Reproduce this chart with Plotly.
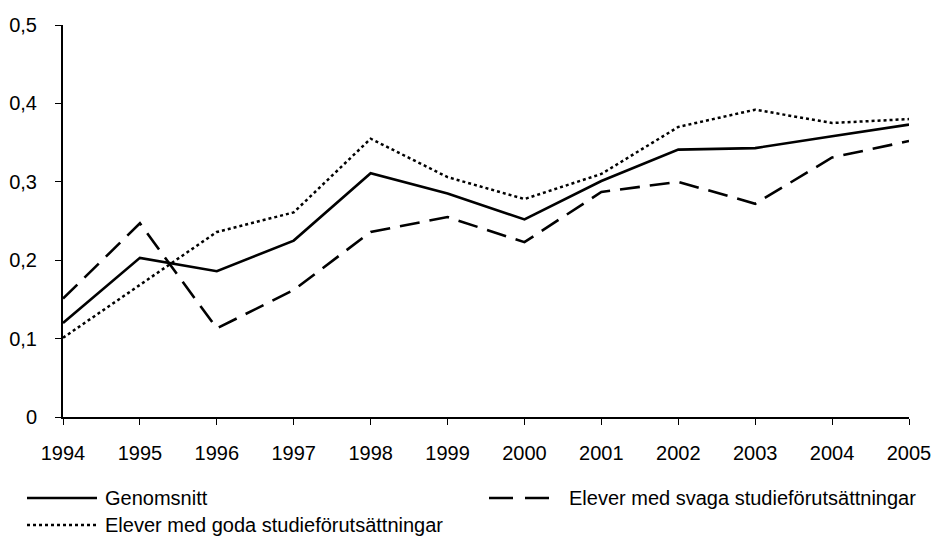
import plotly.graph_objects as go

years = [1994, 1995, 1996, 1997, 1998, 1999, 2000, 2001, 2002, 2003, 2004, 2005]

genomsnitt = [0.120, 0.203, 0.186, 0.225, 0.311, 0.285, 0.252, 0.301, 0.341, 0.343, 0.358, 0.373]
svaga = [0.151, 0.247, 0.113, 0.162, 0.236, 0.255, 0.223, 0.287, 0.300, 0.272, 0.331, 0.352]
goda = [0.101, 0.168, 0.236, 0.261, 0.355, 0.306, 0.278, 0.310, 0.370, 0.392, 0.375, 0.380]

y_ticks = [0, 0.1, 0.2, 0.3, 0.4, 0.5]
y_tick_labels = ["0", "0,1", "0,2", "0,3", "0,4", "0,5"]

FONT = "Liberation Sans, Arial, sans-serif"

# plot area in pixels; the page's body margin is removed below so the
# figure fills the window exactly
W, H = 936, 540
L, T = 63, 25
R, B = 936 - 909, 540 - 417
PW, PH = W - L - R, H - T - B


def px_x(px):
    return (px - L) / PW


def px_y(py):
    return (H - B - py) / PH


series = [
    ("Genomsnitt", genomsnitt, dict(color="black", width=2.6)),
    ("Elever med svaga studieförutsättningar", svaga, dict(color="black", width=2.6, dash="20px,10px")),
    ("Elever med goda studieförutsättningar", goda, dict(color="black", width=2.5, dash="dot")),
]

fig = go.Figure()
for name, vals, line in series:
    fig.add_trace(go.Scatter(x=years, y=vals, mode="lines", name=name, line=line))

# hand-drawn legend below the axes: (sample x0, sample x1, text x, row y)
legend_pos = [
    (27, 97, 103, 498),
    (489, 549, 567, 498),
    (27, 97, 103, 525),
]
legend_dash = ["solid", "24px,12px", "dot"]
for (name, _, line), (x0, x1, tx, ry), dash in zip(series, legend_pos, legend_dash):
    fig.add_shape(
        type="line", xref="paper", yref="paper",
        x0=px_x(x0), x1=px_x(x1), y0=px_y(ry), y1=px_y(ry),
        line=dict(color="black", width=line["width"], dash=dash),
    )
    fig.add_annotation(
        xref="paper", yref="paper", x=px_x(tx), y=px_y(ry),
        text=name, showarrow=False, xanchor="left", yanchor="middle",
        font=dict(family=FONT, size=20, color="black"),
    )

fig.update_layout(
    width=W,
    height=H,
    margin=dict(l=L, r=R, t=T, b=B),
    plot_bgcolor="white",
    paper_bgcolor="white",
    font=dict(family=FONT, size=20, color="black"),
    showlegend=False,
)

fig.update_xaxes(
    range=[1994, 2005],
    tickvals=years,
    ticktext=[str(y) for y in years],
    showgrid=False,
    zeroline=False,
    showline=True,
    linecolor="black",
    linewidth=2,
    ticks="outside",
    ticklen=6,
    tickwidth=1.3,
    tickcolor="black",
    ticklabelstandoff=11,
    automargin=False,
)

fig.update_yaxes(
    range=[0, 0.5],
    tickvals=y_ticks,
    ticktext=y_tick_labels,
    showgrid=False,
    zeroline=False,
    showline=True,
    linecolor="black",
    linewidth=2,
    ticks="outside",
    ticklen=6,
    tickwidth=1.3,
    tickcolor="black",
    ticklabelstandoff=14,
    automargin=False,
)

fig.write_html(
    "out.html",
    config={"displayModeBar": False},
    post_script="document.body.style.margin='0';document.body.style.overflow='hidden';",
)
